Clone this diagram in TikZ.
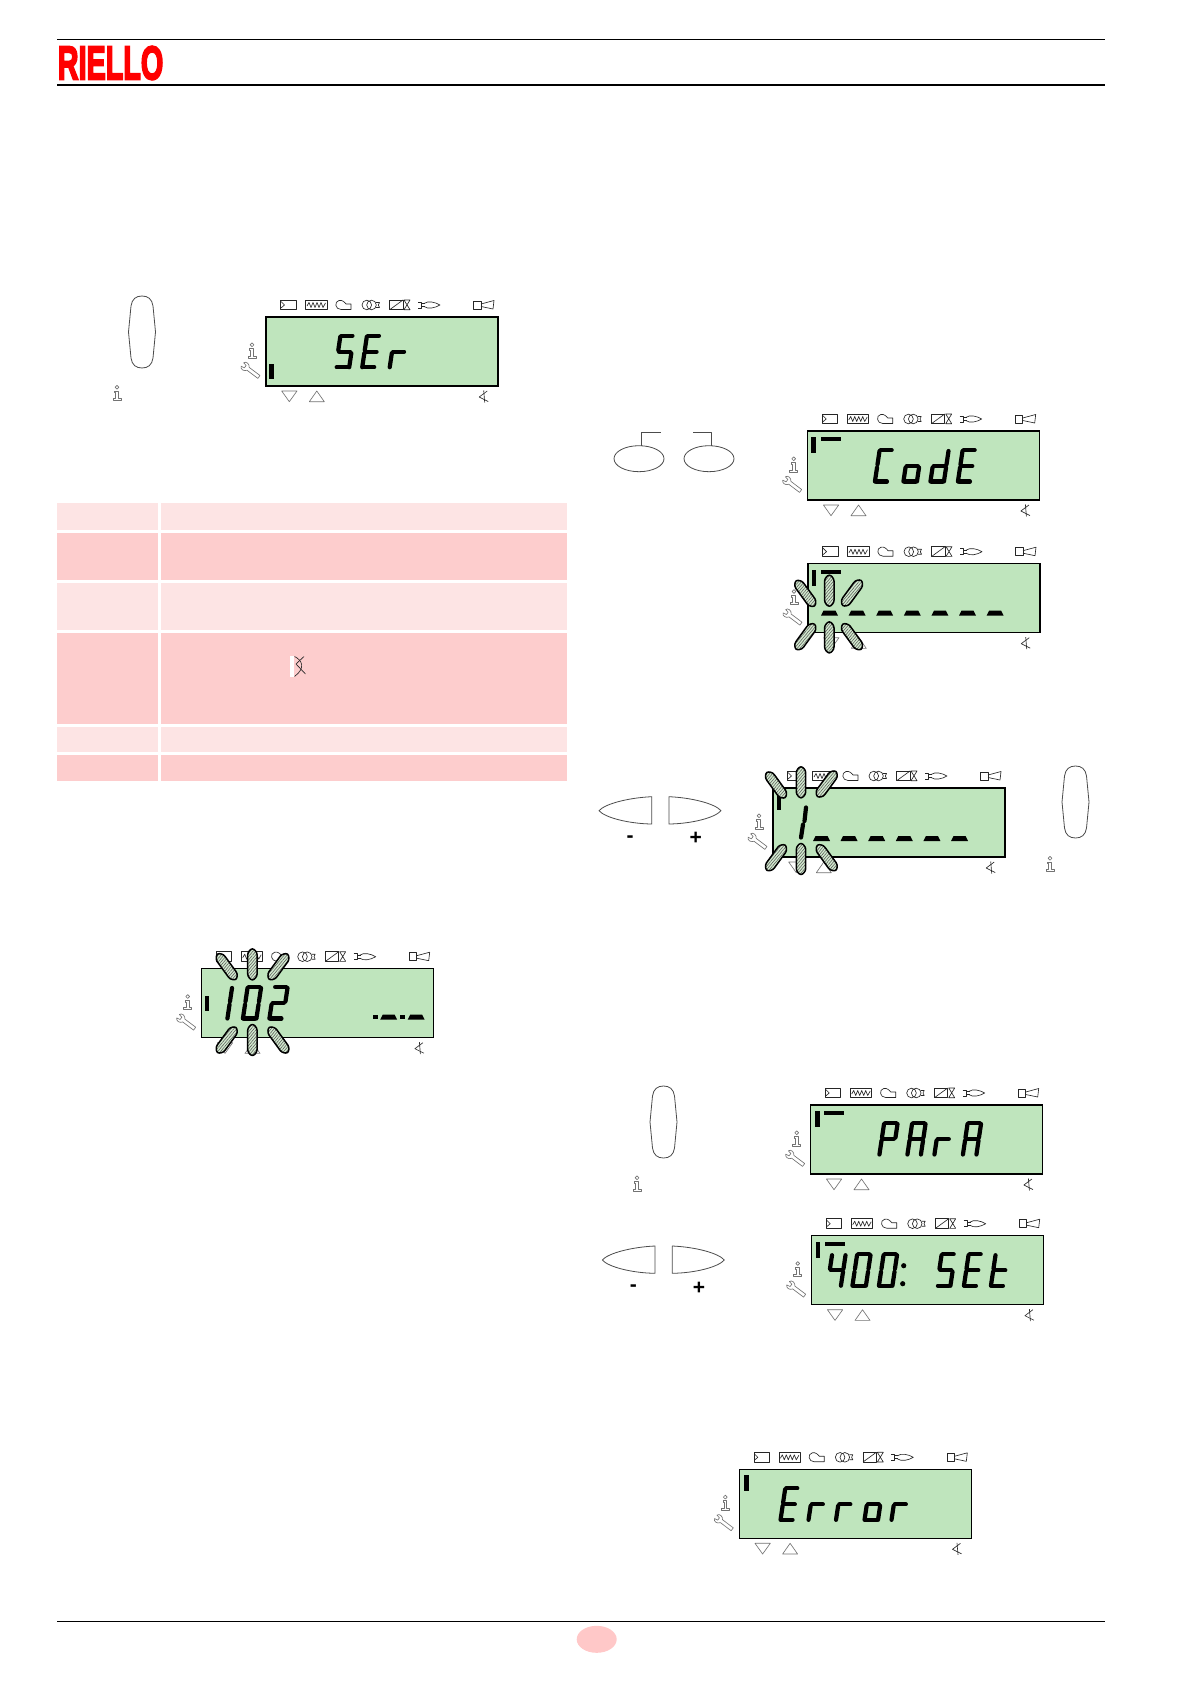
\documentclass[tikz,border=0pt]{standalone}
\usepackage{fontspec}
\setmainfont{Liberation Sans}
\newfontfamily\logofont[FakeBold=4.5]{Liberation Sans}
\usetikzlibrary{patterns.meta}
\definecolor{lcdgreen}{HTML}{BFE5BD}
\definecolor{rowlight}{HTML}{FDE4E4}
\definecolor{rowdark}{HTML}{FDCDCD}
\definecolor{logored}{HTML}{FF0000}
\definecolor{pagepink}{HTML}{FFC8C8}
\definecolor{blinkfill}{HTML}{D3EBCF}
\tikzset{
  x=0.5pt,y=-0.5pt,
  rule/.style={line width=0.6pt,black},
  icon/.style={line width=0.32pt,black!85,line join=round},
  softicon/.style={line width=0.32pt,black!55,line join=round},
  btn/.style={line width=0.4pt,black!70,line join=round},
  lcdframe/.style={fill=lcdgreen,draw=black,line width=0.65pt},
  segline/.style={line width=2.1pt,black,line cap=round,line join=round},
  blinkbar/.style={draw=black,line width=0.75pt,line join=round,rounded corners=1.2pt,
     preaction={fill=blinkfill},
     pattern={Lines[angle=50,distance=1.1pt,line width=0.28pt]},pattern color=black!65},
}
% seven-segment strokes (glyph origin = bottom left, units px)
\def\sgma{\draw[segline] (2,-33)--(13,-33);}
\def\sgmb{\draw[segline] (14.5,-32)--(14.5,-18.5);}
\def\sgmc{\draw[segline] (14.5,-15.5)--(14.5,-1.5);}
\def\sgmd{\draw[segline] (2,-1.5)--(13,-1.5);}
\def\sgme{\draw[segline] (1,-15.5)--(1,-1.5);}
\def\sgmf{\draw[segline] (1,-32)--(1,-18.5);}
\def\sgmg{\draw[segline] (2,-17)--(13,-17);}
\newcommand{\glyph}[3]{\begin{scope}[shift={(#1,#2)},xslant=0.15]
  \foreach \s in {#3}{\csname sgm\s\endcsname}\end{scope}}
\newcommand{\dashseg}[2]{\fill[black] (#1,#2+5)--(#1+17,#2+5)--(#1+14.5,#2)--(#1+2.5,#2)--cycle;}
\newcommand{\infoicon}[2]{\begin{scope}[shift={(#1,#2)}]
  \draw[softicon] (0,1.8) circle (1.9);
  \draw[softicon] (-2.4,5.5)--(1.4,5.5)--(1.4,13)--(4,13)--(4,15)--(-4,15)--(-4,13)--(-1.4,13)--(-1.4,7.3)--(-2.4,7.3)--cycle;
\end{scope}}
\newcommand{\wrench}[2]{\begin{scope}[shift={(#1,#2)},rotate=-37,scale=0.9]
  \draw[softicon] (-4,-2)--(11,-2)--(11,2)--(-4,2)
   .. controls (-6,5.5) and (-11,5.5) .. (-12,2.4) -- (-8,1.6) -- (-8,-1.6) -- (-12,-2.4)
   .. controls (-11,-5.5) and (-6,-5.5) .. (-4,-2) -- cycle;
\end{scope}}
\newcommand{\xsym}[2]{\begin{scope}[shift={(#1,#2)}]
  \draw[icon] (3.5,-5.5)--(-4.5,0.5)--(4.5,5);
  \draw[icon] (0,-6)--(1,6);
\end{scope}}
\newcommand{\lcdbase}{%
  \draw[lcdframe] (0,0) rectangle (232,69);
  \draw[icon] (14.7,-17) rectangle (30,-7.3);
  \draw[icon] (15,-15.5)--(18.5,-12)--(15,-9);
  \draw[icon] (39.7,-17) rectangle (61,-7.3);
  \draw[icon] (41,-11)--(43,-14.5)--(45,-9.5)--(47,-14.5)--(49,-9.5)--(51,-14.5)--(53,-9.5)--(55,-14.5)--(57,-9.5)--(59.5,-14);
  \draw[icon] (85,-13)--(85,-7.5)--(75,-7.5) .. controls (69,-7.5) and (68,-15.5) .. (73,-16.5) .. controls (76,-17.5) and (79,-14.5) .. (80,-13) -- cycle;
  \draw[icon] (100.8,-12) circle (4.8);
  \draw[icon] (105.5,-12) circle (4.8);
  \draw[icon] (110,-14.5)--(113.5,-14.5)--(112.3,-12)--(113.5,-9.5)--(110,-9.5);
  \draw[icon] (123.7,-7.3) rectangle (137,-17);
  \draw[icon] (123.7,-7.3)--(137,-17);
  \draw[icon] (138,-17)--(144,-17)--(138,-7.3)--(144,-7.3)--cycle;
  \draw[icon] (152,-15)--(155.5,-15)--(155.5,-9)--(152,-9);
  \draw[icon] (155.5,-13.5)--(159,-13.5) (155.5,-10.5)--(159,-10.5);
  \draw[icon] (158,-13.5) .. controls (162,-16.5) and (169,-15) .. (174,-12) .. controls (169,-9) and (162,-7.5) .. (158,-10.5);
  \draw[icon] (207.7,-16) rectangle (215,-8);
  \draw[icon] (215,-13)--(228,-16.5)--(227,-8)--(215,-10.5);
  \infoicon{-14}{26}
  \wrench{-15}{54}
  \draw[softicon] (15.7,74)--(31,74)--(23.3,84.7)--cycle;
  \draw[softicon] (43.3,84.7)--(58.3,84.7)--(50.8,74)--cycle;
  \xsym{217.7}{79.5}
}
\newcommand{\vbar}[2]{\fill[black] (#1,#2) rectangle (#1+4.4,#2+15.5);}
\newcommand{\hdash}[1]{\fill[black] (13,#1) rectangle (33,#1+4);}
\newcommand{\blk}[3]{\begin{scope}[shift={(#1,#2)},rotate=#3]
  \path[blinkbar] (0,-16.5)--(4.7,-12)--(4.7,12)--(0,16.5)--(-4.7,12)--(-4.7,-12)--cycle;
\end{scope}}
\newcommand{\tallbtn}[2]{\begin{scope}[shift={(#1,#2)}]
  \draw[btn] (0,0) .. controls (6,0) and (10,3) .. (11,10) -- (13.5,36) -- (11,62)
     .. controls (10,69) and (6,72) .. (0,72) .. controls (-6,72) and (-10,69) .. (-11,62)
     -- (-13.5,36) -- (-11,10) .. controls (-10,3) and (-6,0) .. (0,0) -- cycle;
\end{scope}}
\newcommand{\leftbtn}[2]{\begin{scope}[shift={(#1,#2)}]
  \draw[btn] (52.7,0) .. controls (30,1) and (6,7) .. (0,14) .. controls (6,21) and (30,27) .. (52.7,27.3) -- cycle;
\end{scope}}
\newcommand{\rightbtn}[2]{\begin{scope}[shift={(#1,#2)}]
  \draw[btn] (0,0) .. controls (23,1) and (46,7) .. (52,14) .. controls (46,21) and (23,27) .. (0,27.3) -- cycle;
\end{scope}}
\begin{document}
\begin{tikzpicture}
\useasboundingbox (0,0) rectangle (1190,1684);
\fill[white] (0,0) rectangle (1190,1684);
% header and footer
\draw[rule] (57,39.5)--(1105,39.5);
\draw[rule] (57,85)--(1105,85);
\node[anchor=west,inner sep=0pt,text=logored,xscale=0.61,font=\logofont\bfseries\fontsize{23.6pt}{24pt}\selectfont] (logo) at (57.5,63) {RIELLO};
\draw[rule] (57,1621.7)--(1105,1621.7);
\fill[pagepink] (596.7,1639.3) ellipse (20 and 13.5);
% table
\foreach \ya/\yb/\c in {503/530/rowlight,533/580/rowdark,583/630/rowlight,633/724/rowdark,727/752/rowlight,755/781/rowdark}{
  \fill[\c] (57,\ya) rectangle (158,\yb);
  \fill[\c] (161,\ya) rectangle (567,\yb);
}
\fill[white] (290,655.7) rectangle (294,676.7);
\draw[icon] (304,656.5)--(296,664)--(305.5,674);
\draw[icon] (294.5,656.5) .. controls (302,660) and (306,668) .. (294.5,676.5);
% left tall button with SEr
\tallbtn{142}{296}
\infoicon{117}{385.5}
\begin{scope}[shift={(266,317)}]
  \lcdbase
  \vbar{3.3}{46.7}
  \glyph{68.5}{51.7}{a,f,g,c,d}
  \glyph{95}{51.7}{a,f,g,e,d}
  \glyph{122.5}{51.7}{e,g}
\end{scope}
% two round buttons
\draw[btn] (639,458.7) ellipse (25 and 13);
\draw[btn] (641.7,445.7)--(641.7,432.3)--(661,432.3);
\draw[btn] (709,458.7) ellipse (25 and 13);
\draw[btn] (711.7,445.7)--(711.7,432.3)--(693.3,432.3);
% CodE
\begin{scope}[shift={(807.7,431)}]
  \lcdbase
  \vbar{3.5}{6.3}
  \hdash{6.3}
  \glyph{66}{52}{a,f,e,d}
  \glyph{94.5}{52}{g,c,d,e}
  \glyph{121.5}{52}{b,c,d,e,g}
  \glyph{149}{52}{a,f,g,e,d}
\end{scope}
% dashes with blink
\begin{scope}[shift={(808,563.7)}]
  \lcdbase
  \vbar{3.5}{6.3}
  \hdash{6.3}
  \foreach \k in {0,...,6}{\dashseg{13+27.6*\k}{47}}
  \blk{-2.7}{29.7}{36}
  \blk{21.3}{27}{0}
  \blk{44}{29.3}{-36}
  \blk{-2.7}{73}{-36}
  \blk{21.3}{73.7}{0}
  \blk{44}{73}{36}
\end{scope}
% - + with 1------
\leftbtn{599}{796.7}
\rightbtn{669}{796.7}
\node[font=\bfseries\fontsize{10.5pt}{11pt}\selectfont,inner sep=0pt] (minusa) at (630,839) {-};
\node[font=\bfseries\fontsize{10.5pt}{11pt}\selectfont,inner sep=0pt] (plusa) at (695.7,838.5) {+};
\begin{scope}[shift={(773,788)}]
  \lcdbase
  \vbar{4}{6}
  \draw[segline] (33,19.5)--(31.5,33) (30,36.5)--(28,49.5);
  \foreach \k in {0,...,5}{\dashseg{40+27.6*\k}{48}}
  \blk{3}{-3}{36}
  \blk{28}{-5.7}{0}
  \blk{53.7}{-4}{-36}
  \blk{3}{69.7}{-36}
  \blk{28}{71}{0}
  \blk{53.7}{69.7}{36}
\end{scope}
\tallbtn{1075.5}{766}
\infoicon{1050}{856.5}
% 102
\begin{scope}[shift={(201.7,968.7)}]
  \lcdbase
  \vbar{3.3}{27}
  \begin{scope}[shift={(11,51.3)},xslant=0.15]\sgmb\sgmc\end{scope}
  \glyph{40}{51.3}{a,b,c,d,e,f}
  \glyph{66.5}{51.3}{a,b,g,e,d}
  \fill[black] (171.7,46.7) rectangle (176.7,50.5);
  \dashseg{178.5}{46}
  \fill[black] (198,46) rectangle (203,49.8);
  \dashseg{206}{46}
  \blk{25}{-2}{36}
  \blk{50.7}{-4.3}{0}
  \blk{76.7}{-2}{-36}
  \blk{25}{71.3}{-36}
  \blk{50.7}{71.3}{0}
  \blk{76.7}{71.3}{36}
\end{scope}
% PArA
\tallbtn{663.5}{1086}
\infoicon{637}{1176}
\begin{scope}[shift={(810.7,1105)}]
  \lcdbase
  \vbar{4.5}{6.3}
  \hdash{6.3}
  \glyph{67.5}{51}{a,b,f,g,e}
  \glyph{95.5}{51}{a,b,c,e,f,g}
  \glyph{122.5}{51}{e,g}
  \glyph{151}{51}{a,b,c,e,f,g}
\end{scope}
% - + with 400: SEt
\leftbtn{602.3}{1246}
\rightbtn{672.3}{1246}
\node[font=\bfseries\fontsize{10.5pt}{11pt}\selectfont,inner sep=0pt] (minusb) at (633.3,1288.5) {-};
\node[font=\bfseries\fontsize{10.5pt}{11pt}\selectfont,inner sep=0pt] (plusb) at (699,1288) {+};
\begin{scope}[shift={(811.7,1235.7)}]
  \lcdbase
  \vbar{4}{6.7}
  \hdash{6.5}
  \glyph{14.5}{51.5}{f,g,b,c}
  \glyph{39.5}{51.5}{a,b,c,d,e,f}
  \glyph{66}{51.5}{a,b,c,d,e,f}
  \fill[black] (92,30) circle (2.6);
  \fill[black] (91,48) circle (2.6);
  \glyph{124}{51.5}{a,f,g,c,d}
  \glyph{151}{51.5}{a,f,g,e,d}
  \glyph{178}{51.5}{f,e,g,d}
\end{scope}
% Error
\begin{scope}[shift={(739.3,1469.3)}]
  \lcdbase
  \vbar{5}{6}
  \glyph{40}{52}{a,f,g,e,d}
  \glyph{68}{52}{e,g}
  \glyph{95.5}{52}{e,g}
  \glyph{124}{52}{g,c,d,e}
  \glyph{151}{52}{e,g}
\end{scope}
\end{tikzpicture}
\end{document}
